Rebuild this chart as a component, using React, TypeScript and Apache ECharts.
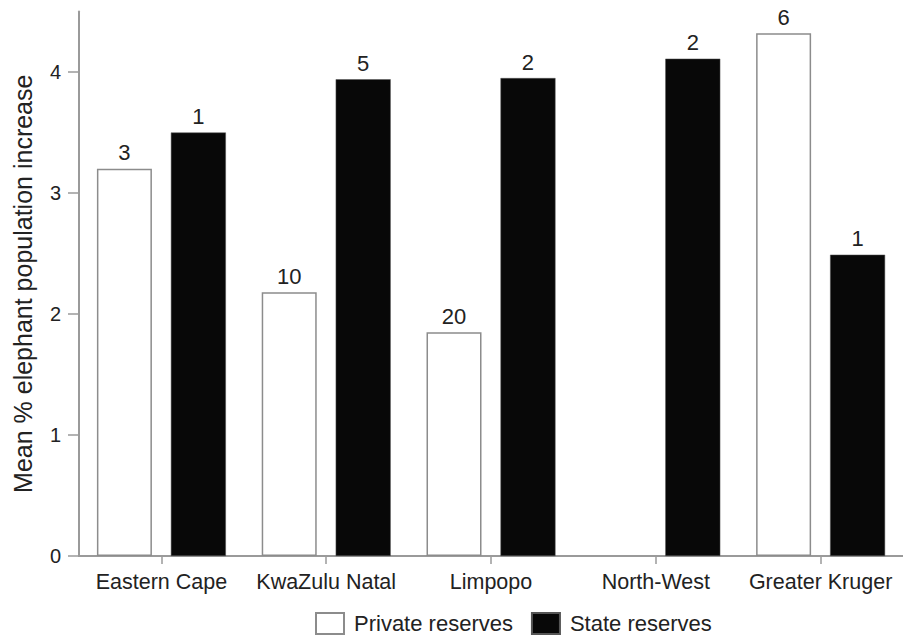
import React, { useEffect, useRef } from "react";
import * as echarts from "echarts";

const categories = ["Eastern Cape", "KwaZulu Natal", "Limpopo", "North-West", "Greater Kruger"];
const privateValues: (number | null)[] = [3.2, 2.18, 1.85, null, 4.32];
const stateValues: number[] = [3.5, 3.94, 3.95, 4.11, 2.49];
const privateCounts: (number | null)[] = [3, 10, 20, null, 6];
const stateCounts: number[] = [1, 5, 2, 2, 1];
const yTicks = [0, 1, 2, 3, 4];
const yAxisName = "Mean % elephant population increase";
const seriesNames = ["Private reserves", "State reserves"];

const FONT = "'Liberation Sans', Arial, Helvetica, sans-serif";
const TEXT = "#222";
const AXIS = "#9a9a9a";

export default function App() {
  const ref = useRef<HTMLDivElement>(null);
  useEffect(() => {
    if (!ref.current) return;
    const chart = echarts.init(ref.current, undefined, { renderer: "svg" });
    chart.setOption({
      animation: false,
      backgroundColor: "#ffffff",
      textStyle: { fontFamily: FONT },
      grid: { left: 79, top: 11.5, width: 830, height: 544.5, containLabel: false },
      legend: {
        left: 315,
        top: 612,
        padding: 0,
        itemWidth: 28,
        itemHeight: 21,
        itemGap: 18,
        icon: "rect",
        data: seriesNames,
        textStyle: { fontSize: 22, color: TEXT, fontFamily: FONT, padding: [0, 0, 0, 5] },
      },
      xAxis: {
        type: "category",
        data: categories,
        axisLine: { lineStyle: { color: AXIS, width: 2 } },
        axisTick: { show: true, alignWithLabel: true, length: 8, lineStyle: { color: AXIS, width: 1.5 } },
        axisLabel: { interval: 0, fontSize: 21.5, color: TEXT, margin: 15, fontFamily: FONT },
      },
      yAxis: {
        type: "value",
        min: 0,
        max: 4.5,
        interval: 1,
        name: yAxisName,
        nameLocation: "middle",
        nameGap: 44,
        nameTextStyle: { fontSize: 25, color: TEXT, fontFamily: FONT },
        splitLine: { show: false },
        axisLine: { show: true, lineStyle: { color: AXIS, width: 2 } },
        axisTick: { show: true, length: 11, customValues: yTicks, lineStyle: { color: AXIS, width: 1.5 } },
        axisLabel: { fontSize: 20, color: TEXT, margin: 18, customValues: yTicks, fontFamily: FONT },
      },
      series: [
        {
          name: seriesNames[0],
          type: "bar",
          data: privateValues,
          barWidth: 55,
          barGap: "34.5%",
          itemStyle: { color: "#ffffff", borderColor: "#8c8c8c", borderWidth: 1.5 },
          label: {
            show: true,
            position: "top",
            distance: 5,
            fontSize: 22,
            color: TEXT,
            fontFamily: FONT,
            formatter: (p: any) => (privateCounts[p.dataIndex] == null ? "" : String(privateCounts[p.dataIndex])),
          },
        },
        {
          name: seriesNames[1],
          type: "bar",
          data: stateValues,
          barWidth: 55,
          itemStyle: { color: "#080808", borderColor: "#555", borderWidth: 0.5 },
          label: {
            show: true,
            position: "top",
            distance: 5,
            fontSize: 22,
            color: TEXT,
            fontFamily: FONT,
            formatter: (p: any) => String(stateCounts[p.dataIndex]),
          },
        },
      ],
    });
    return () => chart.dispose();
  }, []);
  return (
    <div
      ref={ref}
      style={{ position: "fixed", left: 0, top: 0, width: 903, height: 641, background: "#fff" }}
    />
  );
}
